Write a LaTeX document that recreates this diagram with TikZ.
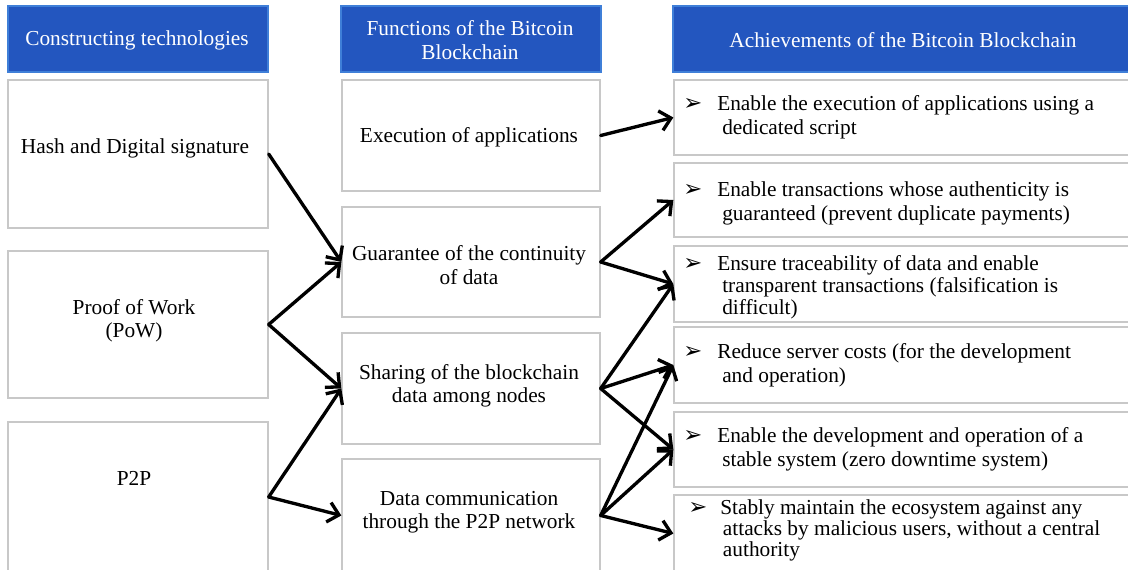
\documentclass[tikz,border=0pt]{standalone}
\usepackage{fontspec}
\setmainfont{Liberation Serif}
\newfontfamily\symfont{DejaVu Sans}
\usetikzlibrary{fit,arrows.meta}
\definecolor{hdr}{HTML}{2356BF}
\definecolor{hdrline}{HTML}{3F7FD8}
\definecolor{boxline}{HTML}{C8C8C8}
\newcommand{\bulsym}{{\symfont\fontsize{17}{17}\selectfont ➢}}
\newcommand{\bul}{\makebox[25.5pt][l]{\bulsym}}
\newcommand{\ind}{\hspace*{29.25pt}}
\begin{document}
\begin{tikzpicture}[x=0.75pt,y=-0.75pt,
  every node/.style={font=\fontsize{16}{18}\selectfont},
  hbox/.style={fill=hdr,draw=hdrline,line width=0.8pt,inner sep=0pt},
  cbox/.style={draw=boxline,line width=1pt,inner sep=0pt,fill=white},
  htext/.style={text=white,align=center,inner sep=0pt,font=\fontsize{16}{17.5}\selectfont},
  ctext/.style={align=center,inner sep=0pt,font=\fontsize{16}{17.5}\selectfont},
  atext/.style={align=left,anchor=west,inner sep=0pt},
  arr/.style={line width=2.5pt,line cap=round,line join=round,-{Straight Barb[length=8pt,width=15pt,line width=2.5pt]}}]
\useasboundingbox (0,0) rectangle (1128,570);
% headers
\node[hbox,fit={(8,6)(268,72)}] (h1) {};
\node[hbox,fit={(341,6)(601,72)}] (h2) {};
\node[hbox,fit={(673,6)(1130,72)}] (h3) {};
\node[htext] (h1t) at (137,40) {Constructing technologies};
\node[htext] (h2t) at (470,40) {Functions of the Bitcoin\\Blockchain};
\node[htext] (h3t) at (903,40) {Achievements of the Bitcoin Blockchain};
% column 1
\node[cbox,fit={(8,80)(268,228)}] (c1) {};
\node[cbox,fit={(8,251)(268,398)}] (c2) {};
\node[cbox,fit={(8,422)(268,572)}] (c3) {};
\node[ctext] (c1t) at (135,148) {Hash and Digital signature};
\node[ctext] (c2t) at (134,321) {Proof of Work\\(PoW)};
\node[ctext] (c3t) at (134,478) {P2P};
% column 2
\node[cbox,fit={(342,80)(600,191)}] (f1) {};
\node[cbox,fit={(342,207)(600,317)}] (f2) {};
\node[cbox,fit={(342,333)(600,444)}] (f3) {};
\node[cbox,fit={(342,459)(600,572)}] (f4) {};
\node[ctext] (f1t) at (469,137) {Execution of applications};
\node[ctext] (f2t) at (469,265) {Guarantee of the continuity\\of data};
\node[ctext] (f3t) at (469,386) {Sharing of the blockchain\\data among nodes};
\node[ctext] (f4t) at (469,512) {Data communication\\through the P2P network};
% column 3
\node[cbox,fit={(674,80)(1130,155)}] (a1) {};
\node[cbox,fit={(674,163)(1130,237)}] (a2) {};
\node[cbox,fit={(674,246)(1130,322)}] (a3) {};
\node[cbox,fit={(674,327)(1130,403)}] (a4) {};
\node[cbox,fit={(674,412)(1130,487)}] (a5) {};
\node[cbox,fit={(674,495)(1130,572)}] (a6) {};
\node[atext] (a1t) at (683,117.5) {\bul Enable the execution of applications using a\\\ind dedicated script};
\node[atext] (a2t) at (683,203) {\bul Enable transactions whose authenticity is\\\ind guaranteed (prevent duplicate payments)};
\node[atext,font=\fontsize{16}{16.5}\selectfont] (a3t) at (683,287) {\bul Ensure traceability of data and enable\\\ind transparent transactions (falsification is\\\ind difficult)};
\node[atext] (a4t) at (683,365.5) {\bul Reduce server costs (for the development\\\ind and operation)};
\node[atext] (a5t) at (683,449) {\bul Enable the development and operation of a\\\ind stable system (zero downtime system)};
\node[atext,font=\fontsize{16}{15.8}\selectfont] (a6t) at (688,530) {\makebox[24pt][l]{\bulsym}Stably maintain the ecosystem against any\\\hspace*{26pt}attacks by malicious users, without a central\\\hspace*{26pt}authority};
% arrows
\draw[arr] (c1.east) -- (f2.west);
\draw[arr] (c2.east) -- (f2.west);
\draw[arr] (c2.east) -- (f3.west);
\draw[arr] (c3.east) -- (f3.west);
\draw[arr] (c3.east) -- (f4.west);
\draw[arr] (f1.east) -- (a1.west);
\draw[arr] (f2.east) -- (a2.west);
\draw[arr] (f2.east) -- (a3.west);
\draw[arr] (f3.east) -- (a3.west);
\draw[arr] (f3.east) -- (a4.west);
\draw[arr] (f3.east) -- (a5.west);
\draw[arr] (f4.east) -- (a4.west);
\draw[arr] (f4.east) -- (a5.west);
\draw[arr] (f4.east) -- (a6.west);
\end{tikzpicture}
\end{document}
